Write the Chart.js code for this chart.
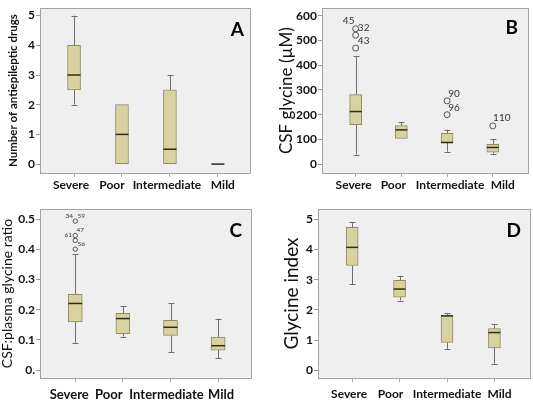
<!DOCTYPE html>
<html>
<head>
<meta charset="utf-8">
<script src="https://cdn.jsdelivr.net/npm/chart.js@4.4.1/dist/chart.umd.min.js"></script>
<style>
  body { margin: 0; background: #fff; }
  #wrap { position: relative; width: 533px; height: 400px; }
  .panel { position: absolute; }
</style>
</head>
<body>
<div id="wrap">
  <div class="panel" style="left:0;top:0;width:266px;height:195px"><canvas id="chartA"></canvas></div>
  <div class="panel" style="left:266px;top:0;width:267px;height:195px"><canvas id="chartB"></canvas></div>
  <div class="panel" style="left:0;top:195px;width:266px;height:205px"><canvas id="chartC"></canvas></div>
  <div class="panel" style="left:266px;top:195px;width:267px;height:205px"><canvas id="chartD"></canvas></div>
</div>
<script>
// categories shared by all four panels
const categories = ["Severe", "Poor", "Intermediate", "Mild"];

// A - number of antiepileptic drugs
const drugsLow = [2, 0, 0, 0];
const drugsQ1 = [2.5, 0, 0, 0];
const drugsMedian = [3, 1, 0.5, 0];
const drugsQ3 = [4, 2, 2.5, 0];
const drugsHigh = [5, 2, 3, 0];
const drugsTicks = [0, 1, 2, 3, 4, 5];
const drugsTickLabels = ["0", "1", "2", "3", "4", "5"];

// B - CSF glycine (uM)
const glyLow = [39, 105, 51, 42];
const glyQ1 = [160, 105, 88, 49];
const glyMedian = [213, 139, 88, 68];
const glyQ3 = [281, 156, 125, 81];
const glyHigh = [438, 171, 140, 101];
const glyOutCat = [1, 1, 1, 3, 3, 4];
const glyOutVal = [547, 521, 469, 256, 200, 155];
const glyOutLabels = [["45", "32"], ["43"], [], ["90"], ["96"], ["110"]];
const glyTicks = [0, 100, 200, 300, 400, 500, 600];
const glyTickLabels = ["0", "100", "200", "300", "400", "500", "600"];

// C - CSF:plasma glycine ratio
const ratioLow = [0.091, 0.111, 0.060, 0.040];
const ratioQ1 = [0.160, 0.121, 0.115, 0.066];
const ratioMedian = [0.221, 0.171, 0.142, 0.081];
const ratioQ3 = [0.251, 0.188, 0.165, 0.110];
const ratioHigh = [0.384, 0.211, 0.221, 0.171];
const ratioOutCat = [1, 1, 1, 1];
const ratioOutVal = [0.494, 0.446, 0.430, 0.401];
const ratioOutLabels = [["34", "59"], ["61", "47"], ["56"], []];
const ratioTicks = [0, 0.1, 0.2, 0.3, 0.4, 0.5];
const ratioTickLabels = ["0.", "0.1", "0.2", "0.3", "0.4", "0.5"];

// D - glycine index
const indexLow = [2.85, 2.31, 0.69, 0.22];
const indexQ1 = [3.47, 2.42, 0.92, 0.74];
const indexMedian = [4.07, 2.69, 1.80, 1.25];
const indexQ3 = [4.73, 2.98, 1.83, 1.38];
const indexHigh = [4.90, 3.13, 1.90, 1.52];
const indexTicks = [0, 1, 2, 3, 4, 5];
const indexTickLabels = ["0", "1", "2", "3", "4", "5"];

const FONT = "Lato, 'Open Sans', sans-serif";
const BOX_FILL = "#d8d2a0";
const BOX_EDGE = "#8f8a66";
const WHISKER = "#6e6e6e";
const MEDIAN = "#2e2a1c";

// whiskers, caps, medians, category labels, plot frame and panel letter
const boxPlotPlugin = {
  id: "boxParts",
  beforeDraw(chart, args, opts) {
    const { ctx, chartArea: a } = chart;
    ctx.save();
    ctx.fillStyle = "#efefef";
    ctx.fillRect(a.left, a.top, a.right - a.left, a.bottom - a.top);
    ctx.restore();
  },
  beforeDatasetsDraw(chart, args, opts) {
    const { ctx, scales: { x, y } } = chart;
    ctx.save();
    ctx.strokeStyle = WHISKER;
    ctx.lineWidth = 1;
    opts.low.forEach((lo, i) => {
      const cx = Math.round(x.getPixelForValue(i + 1)) + 0.5;
      const segs = [[lo, opts.q1[i]], [opts.q3[i], opts.high[i]]];
      segs.forEach(([a, b]) => {
        if (a === b) return;
        ctx.beginPath();
        ctx.moveTo(cx, y.getPixelForValue(a));
        ctx.lineTo(cx, y.getPixelForValue(b));
        ctx.stroke();
      });
      [lo, opts.high[i]].forEach((v, k) => {
        if (v === (k === 0 ? opts.q1[i] : opts.q3[i])) return;
        const py = Math.round(y.getPixelForValue(v)) + 0.5;
        ctx.beginPath();
        ctx.moveTo(cx - opts.cap, py);
        ctx.lineTo(cx + opts.cap, py);
        ctx.stroke();
      });
    });
    ctx.restore();
  },
  afterDatasetsDraw(chart, args, opts) {
    const { ctx, chartArea: a, scales: { x, y } } = chart;
    ctx.save();
    ctx.strokeStyle = MEDIAN;
    ctx.lineWidth = 1.5;
    opts.median.forEach((m, i) => {
      const cx = x.getPixelForValue(i + 1);
      const py = y.getPixelForValue(m);
      ctx.beginPath();
      ctx.moveTo(cx - opts.boxWidth / 2, py);
      ctx.lineTo(cx + opts.boxWidth / 2, py);
      ctx.stroke();
    });

    // outlier case numbers
    ctx.fillStyle = "#333";
    ctx.font = opts.labelFont;
    ctx.textAlign = "center";
    ctx.textBaseline = "middle";
    (opts.outLabels || []).forEach((labels, i) => {
      const px = x.getPixelForValue(opts.outCat[i]);
      const py = y.getPixelForValue(opts.outVal[i]);
      labels.forEach((t, k) => {
        const [dx, dy] = opts.labelOffsets[i][k];
        ctx.fillText(t, px + dx, py + dy);
      });
    });

    // category labels, spread a little like the original
    ctx.fillStyle = "#111";
    ctx.font = "bold " + opts.catSize + "px " + FONT;
    categories.forEach((c, i) => {
      ctx.fillText(c, x.getPixelForValue(i + 1) + opts.catNudge[i], a.bottom + opts.catDy);
    });

    // frame
    ctx.strokeStyle = "#a3a3a3";
    ctx.lineWidth = 1;
    ctx.strokeRect(Math.round(a.left) + 0.5, Math.round(a.top) + 0.5,
      Math.round(a.right - a.left), Math.round(a.bottom - a.top));

    // panel letter
    ctx.fillStyle = "#000";
    ctx.font = "bold 19px " + FONT;
    ctx.textAlign = "right";
    ctx.textBaseline = "alphabetic";
    ctx.fillText(opts.letter, a.right - opts.letterDx, a.top + opts.letterDy);
    ctx.restore();
  }
};

function makePanel(canvasId, p) {
  const boxes = p.q1.map((q, i) => ({ x: i + 1, y: [q, p.q3[i]] }));
  const outliers = (p.outVal || []).map((v, i) => ({ x: p.outCat[i], y: v }));

  return new Chart(document.getElementById(canvasId), {
    type: "bar",
    data: {
      datasets: [
        {
          type: "bar",
          data: boxes,
          backgroundColor: BOX_FILL,
          borderColor: BOX_EDGE,
          borderWidth: 1,
          borderSkipped: false,
          barThickness: p.boxWidth
        },
        {
          type: "scatter",
          data: outliers,
          pointStyle: "circle",
          pointRadius: p.outRadius || 3,
          borderColor: "#555",
          borderWidth: 1,
          backgroundColor: "rgba(255,255,255,0)"
        }
      ]
    },
    options: {
      responsive: true,
      maintainAspectRatio: false,
      animation: false,
      events: [],
      layout: { padding: { top: p.padTop, right: p.padRight, left: 0, bottom: 0 } },
      plugins: {
        legend: { display: false },
        tooltip: { enabled: false },
        boxParts: {
          low: p.low, q1: p.q1, median: p.median, q3: p.q3, high: p.high,
          boxWidth: p.boxWidth, cap: p.cap,
          outCat: p.outCat, outVal: p.outVal, outLabels: p.outLabels,
          labelOffsets: p.labelOffsets, labelFont: p.labelFont,
          catNudge: p.catNudge, catDy: p.catDy, catSize: p.catSize,
          letter: p.letter, letterDx: p.letterDx, letterDy: p.letterDy
        }
      },
      scales: {
        x: {
          type: "linear",
          min: p.xMin,
          max: p.xMax,
          offset: false,
          afterBuildTicks: (s) => { s.ticks = categories.map((c, i) => ({ value: i + 1 })); },
          afterFit: (s) => { s.height = p.xHeight; },
          grid: { display: true, offset: false, drawOnChartArea: false, color: "#aaa", tickLength: 4 },
          border: { display: false },
          ticks: { display: false }
        },
        y: {
          type: "linear",
          min: p.yMin,
          max: p.yMax,
          afterBuildTicks: (s) => { s.ticks = p.ticks.map((v) => ({ value: v })); },
          afterFit: (s) => { s.width = p.yWidth; },
          grid: { display: true, drawOnChartArea: false, color: "#999", tickLength: 4 },
          border: { display: false },
          ticks: {
            callback: (v, i) => p.tickLabels[i],
            padding: 1,
            color: "#111",
            font: { family: FONT, size: 12, weight: "bold" }
          },
          title: {
            display: true,
            text: p.title,
            color: "#111",
            padding: { top: p.titlePad, bottom: 0 },
            font: { family: FONT, size: p.titleSize, weight: p.titleWeight, lineHeight: 1.2 }
          }
        }
      }
    },
    plugins: [boxPlotPlugin]
  });
}

makePanel("chartA", {
  low: drugsLow, q1: drugsQ1, median: drugsMedian, q3: drugsQ3, high: drugsHigh,
  ticks: drugsTicks, tickLabels: drugsTickLabels,
  yMin: -0.30, yMax: 5.25, xMin: 0.29, xMax: 4.67,
  boxWidth: 13, cap: 3,
  padTop: 4, padRight: 16, yWidth: 40, xHeight: 22,
  catNudge: [-3, -10, -3, 5], catDy: 12, catSize: 12,
  title: "Number of antiepileptic drugs", titleSize: 11.5, titleWeight: "bold", titlePad: 6,
  letter: "A", letterDx: 6, letterDy: 28
});

makePanel("chartB", {
  low: glyLow, q1: glyQ1, median: glyMedian, q3: glyQ3, high: glyHigh,
  ticks: glyTicks, tickLabels: glyTickLabels,
  outCat: glyOutCat, outVal: glyOutVal, outLabels: glyOutLabels,
  labelOffsets: [[[-7, -8], [8, -1]], [[8, 6]], [], [[7, -7]], [[7, -7]], [[9, -8]]],
  labelFont: "10px " + FONT,
  yMin: -35, yMax: 630, xMin: 0.264, xMax: 4.77,
  boxWidth: 12, cap: 3,
  padTop: 4, padRight: 3, yWidth: 56, xHeight: 22,
  catNudge: [-2, -8, 3, 10], catDy: 12, catSize: 12,
  title: "CSF glycine (\u00b5M)", titleSize: 17, titleWeight: "normal", titlePad: 10,
  letter: "B", letterDx: 10, letterDy: 26
});

makePanel("chartC", {
  low: ratioLow, q1: ratioQ1, median: ratioMedian, q3: ratioQ3, high: ratioHigh,
  ticks: ratioTicks, tickLabels: ratioTickLabels,
  outCat: ratioOutCat, outVal: ratioOutVal, outLabels: ratioOutLabels,
  labelOffsets: [[[-6, -5], [6, -5]], [[-7, -1], [5, -6]], [[6, 4]], []],
  labelFont: "6.5px " + FONT, outRadius: 2.2,
  yMin: -0.026, yMax: 0.534, xMin: 0.26, xMax: 4.69,
  boxWidth: 14, cap: 3,
  padTop: 14, padRight: 15, yWidth: 40, xHeight: 22,
  catNudge: [-6, -14, -4, 3], catDy: 16.5, catSize: 13,
  title: "CSF:plasma glycine ratio", titleSize: 14, titleWeight: "normal", titlePad: -1,
  letter: "C", letterDx: 9, letterDy: 28
});

makePanel("chartD", {
  low: indexLow, q1: indexQ1, median: indexMedian, q3: indexQ3, high: indexHigh,
  ticks: indexTicks, tickLabels: indexTickLabels,
  yMin: -0.255, yMax: 5.34, xMin: 0.28, xMax: 4.75,
  boxWidth: 12, cap: 3,
  padTop: 14, padRight: 3, yWidth: 52, xHeight: 22,
  catNudge: [-3, -9, 0, 5], catDy: 16.5, catSize: 12,
  title: "Glycine index", titleSize: 19, titleWeight: "normal", titlePad: 14,
  letter: "D", letterDx: 9, letterDy: 28
});
</script>
</body>
</html>
